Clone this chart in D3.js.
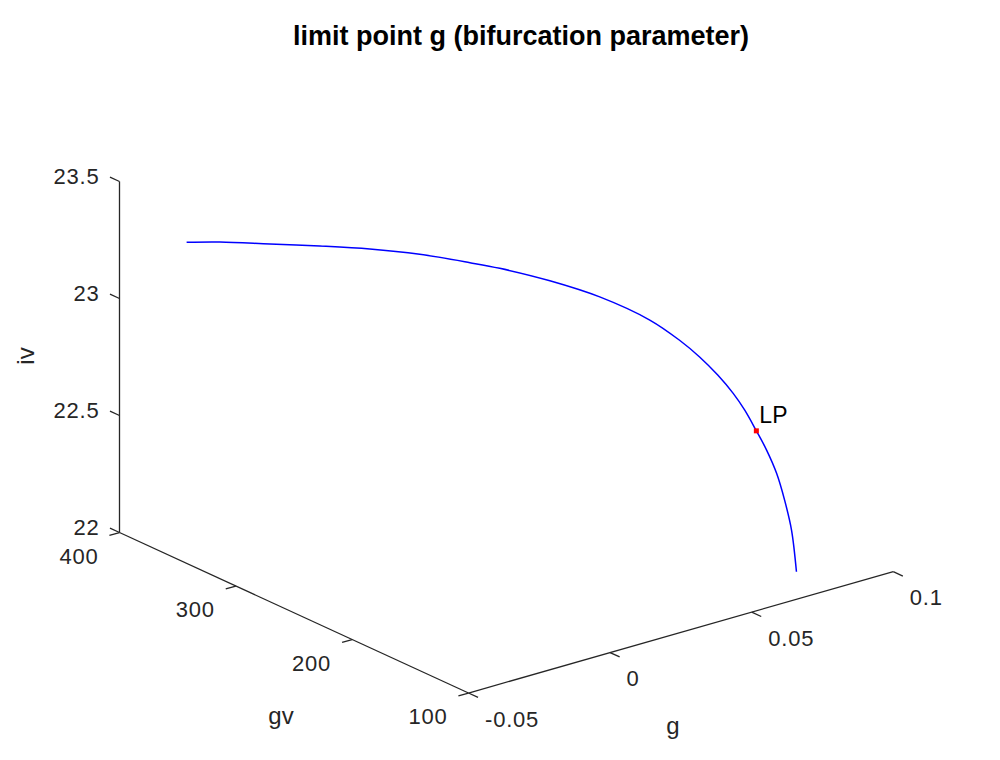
<!DOCTYPE html>
<html>
<head>
<meta charset="utf-8">
<script src="https://cdn.jsdelivr.net/npm/d3@7/dist/d3.min.js"></script>
<style>
  body { margin: 0; background: #fff; }
  text { font-family: "Liberation Sans", Arial, sans-serif; fill: #262626; }
</style>
</head>
<body>
<script>
// tick values for the three axes
const gTicks = [-0.05, 0, 0.05, 0.1]
const gvTicks = [100, 200, 300, 400]
const ivTicks = [22, 22.5, 23, 23.5]

// continuation curve
const gValues = [-0.0263, -0.0207, -0.0125, -0.0039, 0.0047, 0.0137, 0.0228, 0.0284, 0.0383, 0.0485, 0.0592,
  0.0652, 0.0694, 0.0726, 0.0751, 0.0763, 0.0767, 0.0758, 0.0744, 0.0723, 0.0694, 0.0658]
const gvValues = [400, 385, 362, 340, 318, 297, 276, 264, 245, 227, 210,
  199, 192, 184, 177, 170, 161, 150, 138, 126, 113, 100]
const ivValues = [23.158, 23.174, 23.190, 23.202, 23.210, 23.204, 23.185, 23.169, 23.125, 23.062, 22.965,
  22.883, 22.813, 22.742, 22.672, 22.612, 22.543, 22.489, 22.422, 22.342, 22.254, 22.118]
const lpIndex = 16
const lpLabel = 'LP'

const width = 1000, height = 760
const svg = d3.select('body').append('svg')
  .attr('width', width).attr('height', height)

// projected box: corner at (g=-0.05, gv=100, iv=22)
const origin = [468.5, 693]
const gDir = [424.8, -121.3]
const gvDir = [-349, -160.5]
const ivDir = [0, -351]

const gScale = d3.scaleLinear().domain([-0.05, 0.1]).range([0, 1])
const gvScale = d3.scaleLinear().domain([100, 400]).range([0, 1])
const ivScale = d3.scaleLinear().domain([22, 23.5]).range([0, 1])

function project(g, gv, iv) {
  const a = gScale(g), b = gvScale(gv), c = ivScale(iv)
  return [
    origin[0] + a * gDir[0] + b * gvDir[0] + c * ivDir[0],
    origin[1] + a * gDir[1] + b * gvDir[1] + c * ivDir[1]
  ]
}

function unit(v) {
  const l = Math.hypot(v[0], v[1])
  return [v[0] / l, v[1] / l]
}

const axisColor = '#262626'
const tickLen = 10.5
const tickFont = 22
const labelFont = 24
const line = d3.line()

function drawLine(p0, p1) {
  svg.append('path')
    .attr('d', line([p0, p1]))
    .attr('fill', 'none')
    .attr('stroke', axisColor)
    .attr('stroke-width', 1.3)
}

// axis lines
drawLine(project(-0.05, 100, 22), project(0.1, 100, 22))
drawLine(project(-0.05, 100, 22), project(-0.05, 400, 22))
drawLine(project(-0.05, 400, 22), project(-0.05, 400, 23.5))

const fmt = d => String(d)

// g axis ticks point towards the viewer (-gv)
{
  const u = unit(gvDir)
  gTicks.forEach(t => {
    const p = project(t, 100, 22)
    drawLine(p, [p[0] - u[0] * tickLen, p[1] - u[1] * tickLen])
    svg.append('text')
      .attr('x', p[0] + 16.5).attr('y', p[1] + 26)
      .attr('dy', '0.35em')
      .attr('font-size', tickFont).attr('letter-spacing', 0.8)
      .text(fmt(t))
  })
}

// gv axis ticks point along -g
{
  const u = unit(gDir)
  gvTicks.forEach(t => {
    const p = project(-0.05, t, 22)
    drawLine(p, [p[0] - u[0] * tickLen, p[1] - u[1] * tickLen])
    svg.append('text')
      .attr('x', p[0] - 21).attr('y', p[1] + 23.5)
      .attr('dy', '0.35em')
      .attr('text-anchor', 'end')
      .attr('font-size', tickFont).attr('letter-spacing', 0.8)
      .text(fmt(t))
  })
}

// iv axis ticks point along +gv
{
  const u = unit(gvDir)
  ivTicks.forEach(t => {
    const p = project(-0.05, 400, t)
    drawLine(p, [p[0] + u[0] * tickLen, p[1] + u[1] * tickLen])
    svg.append('text')
      .attr('x', p[0] - 20).attr('y', p[1] - 5.5)
      .attr('dy', '0.35em')
      .attr('text-anchor', 'end')
      .attr('font-size', tickFont).attr('letter-spacing', 0.8)
      .text(fmt(t))
  })
}

// axis titles
svg.append('text')
  .attr('x', 281).attr('y', 724)
  .attr('text-anchor', 'middle')
  .attr('font-size', labelFont)
  .text('gv')
svg.append('text')
  .attr('x', 673).attr('y', 734)
  .attr('text-anchor', 'middle')
  .attr('font-size', labelFont)
  .text('g')
svg.append('text')
  .attr('transform', 'translate(34,356) rotate(-90)')
  .attr('text-anchor', 'middle')
  .attr('font-size', labelFont)
  .text('iv')

// title
svg.append('text')
  .attr('x', 521).attr('y', 45)
  .attr('text-anchor', 'middle')
  .attr('font-size', 27).attr('font-weight', 'bold')
  .style('fill', '#000')
  .text('limit point g (bifurcation parameter)')

// curve
const pts = gValues.map((g, i) => project(g, gvValues[i], ivValues[i]))
svg.append('path')
  .attr('d', d3.line().curve(d3.curveCatmullRom)(pts))
  .attr('fill', 'none')
  .attr('stroke', '#0000ff')
  .attr('stroke-width', 1.5)

// limit point marker
const lp = pts[lpIndex]
svg.append('rect')
  .attr('x', lp[0] - 2.5).attr('y', lp[1] - 2.5)
  .attr('width', 5).attr('height', 5)
  .attr('fill', '#ff0000')
svg.append('text')
  .attr('x', lp[0] + 3).attr('y', lp[1] - 7.5)
  .attr('font-size', 23)
  .style('fill', '#000')
  .text(lpLabel)
</script>
</body>
</html>
